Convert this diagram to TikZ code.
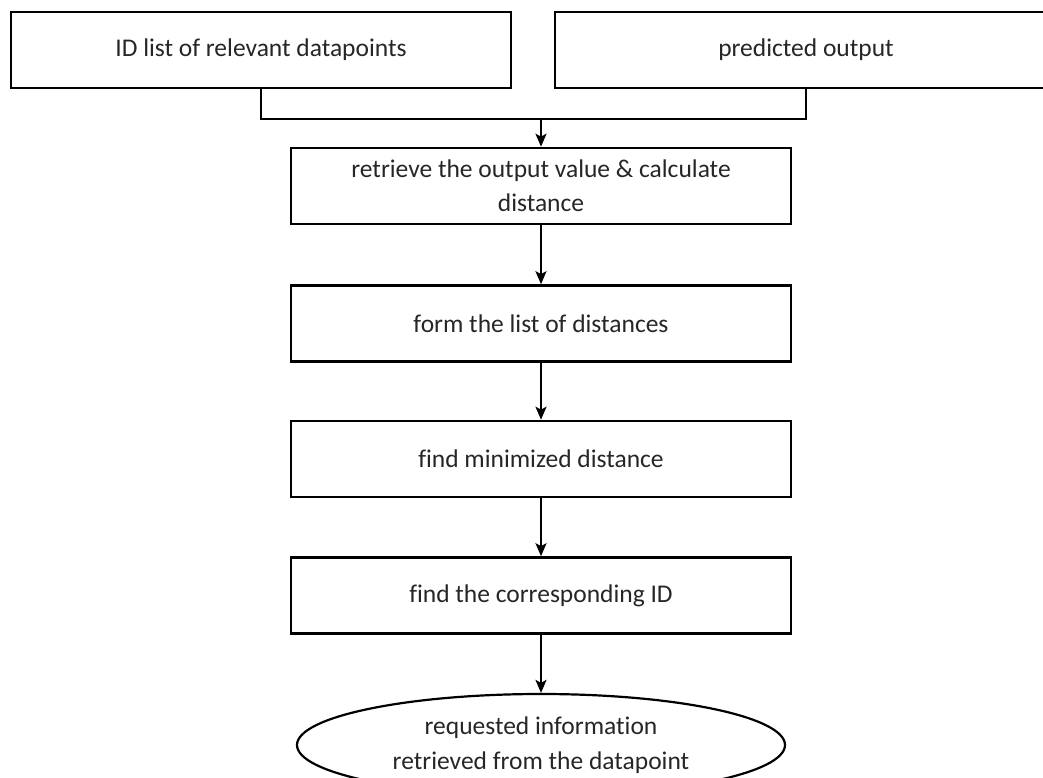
\documentclass[tikz,border=0pt]{standalone}
\usepackage{fontspec}
\setmainfont{Carlito}[Ligatures={NoCommon}]
\usetikzlibrary{shapes.geometric,arrows.meta}
\begin{document}
\begin{tikzpicture}[x=1pt,y=-1pt,
  box/.style={draw=black,line width=2.6pt,rectangle,minimum width=500pt,
    minimum height=76pt,inner sep=0pt,align=center,font=\fontsize{25.5}{34}\selectfont,text=black!85},
  endbox/.style={draw=black,line width=2.2pt,ellipse,minimum width=488pt,
    minimum height=102pt,inner sep=0pt,align=center,font=\fontsize{25.5}{35}\selectfont,text=black!85},
  link/.style={line width=2.2pt,draw=black},
  flow/.style={link,-{Stealth[length=13pt,width=11pt,inset=3pt]}}]
\useasboundingbox (0,0) rectangle (1043,778);
% input boxes
\node[box] (ids)  at (261,50)  {ID list of relevant datapoints};
\node[box,minimum width=502pt] (pred) at (806,50) {predicted output};
% processing chain
\node[box] (retr) at (541,186) {retrieve the output value \& calculate\\distance};
\node[box] (form) at (541,323.5) {form the list of distances};
\node[box] (mind) at (541,459) {find minimized distance};
\node[box] (cid)  at (541,595.5) {find the corresponding ID};
\node[endbox] (info) at (541,745) {requested information\\retrieved from the datapoint};
% merge of the two inputs
\coordinate (join) at (541,119);
\draw[link] (ids.south) |- (join) -| (pred.south);
\draw[flow] (join) -- (retr.north);
\draw[flow] (retr) -- (form);
\draw[flow] (form) -- (mind);
\draw[flow] (mind) -- (cid);
\draw[flow] (cid) -- (info);
\end{tikzpicture}
\end{document}
